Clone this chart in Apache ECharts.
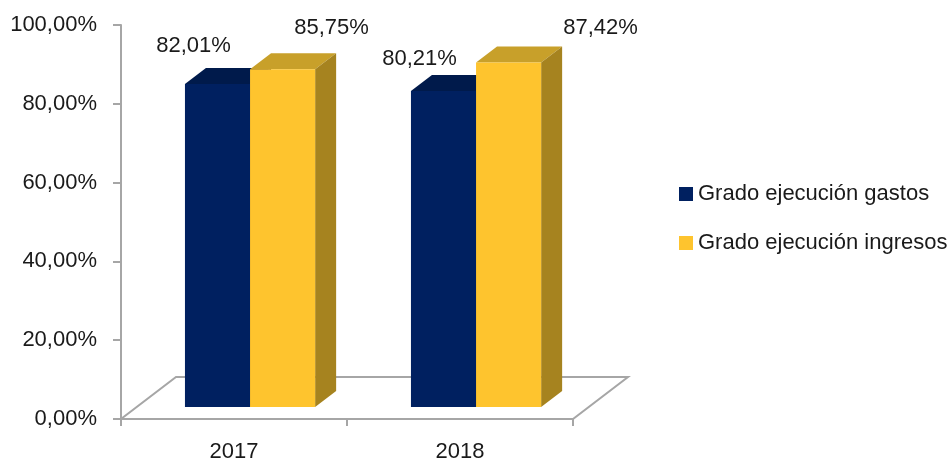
<!DOCTYPE html>
<html>
<head>
<meta charset="utf-8">
<script src="https://cdn.jsdelivr.net/npm/echarts@6/dist/echarts.min.js"></script>
<style>
  html, body { margin: 0; padding: 0; background: #fff; }
  #chart { width: 951px; height: 463px; }
</style>
</head>
<body>
<div id="chart"></div>
<script>
const years = ["2017", "2018"]
const gastos = [82.01, 80.21]
const ingresos = [85.75, 87.42]
const seriesNames = ["Grado ejecución gastos", "Grado ejecución ingresos"]

const font = "'Liberation Sans', Arial, sans-serif"
const fontSize = 22

// colores de cada serie: frontal, superior, lateral
const faces = [
    { front: "#002060", top: "#001a4b", side: "#00163d" },
    { front: "#fec42e", top: "#c8a02a", side: "#a6831f" },
]

// desplazamiento de las etiquetas respecto al centro superior de la cara frontal
const labelNudge = [
    [[-24, -38], [-24, -32]],
    [[49, -41], [92, -35]],
]

const fmt = (v) => v.toFixed(2).replace(".", ",") + "%"

const chart = echarts.init(document.getElementById("chart"))

// profundidad de las barras y del suelo
const depth = { dx: 21, dy: -16 }
const floorDepth = { dx: 55, dy: -42 }

const barRender = (s) => (params, api) => {
    const i = api.value(0)
    const base = api.coord([i, 0])
    const top = api.coord([i, api.value(1)])
    const catW = api.size([1, 0])[0]
    const barW = catW * 0.288
    const fx = catW * 0.071
    const fy = -12
    const left = base[0] + fx - barW + s * barW
    const right = left + barW
    const ty = top[1] + fy
    const by = base[1] + fy
    const c = faces[s]
    const nudge = labelNudge[s][i]
    return {
        type: "group",
        children: [
            {
                type: "polygon",
                shape: { points: [[left, ty], [right, ty], [right + depth.dx, ty + depth.dy], [left + depth.dx, ty + depth.dy]] },
                style: { fill: c.top },
            },
            {
                type: "polygon",
                shape: { points: [[right, ty], [right + depth.dx, ty + depth.dy], [right + depth.dx, by + depth.dy], [right, by]] },
                style: { fill: c.side },
            },
            {
                type: "rect",
                shape: { x: left, y: ty, width: barW, height: by - ty },
                style: { fill: c.front },
            },
            {
                type: "text",
                x: left + barW / 2 + nudge[0],
                y: ty + nudge[1],
                style: {
                    text: fmt(api.value(1)),
                    fontSize: fontSize,
                    fontFamily: font,
                    fill: "#1a1a1a",
                    align: "center",
                    verticalAlign: "middle",
                },
            },
        ],
    }
}

const floorRender = (params, api) => {
    const cs = params.coordSys
    const x0 = cs.x
    const x1 = cs.x + cs.width
    const y0 = cs.y + cs.height
    return {
        type: "polygon",
        shape: {
            points: [
                [x0, y0],
                [x1, y0],
                [x1 + floorDepth.dx, y0 + floorDepth.dy],
                [x0 + floorDepth.dx, y0 + floorDepth.dy],
            ],
        },
        style: { fill: "none", stroke: "#a6a6a6", lineWidth: 2 },
    }
}

chart.setOption({
    animation: false,
    grid: { left: 121, right: 378, top: 25, bottom: 44, outerBoundsMode: "none" },
    legend: {
        data: seriesNames,
        orient: "vertical",
        left: 674,
        top: 178,
        itemWidth: 14,
        itemHeight: 14,
        itemGap: 27,
        icon: "rect",
        textStyle: { fontSize: fontSize, fontFamily: font, color: "#1a1a1a" },
    },
    xAxis: {
        type: "category",
        data: years,
        axisLine: { show: false },
        axisTick: { show: true, length: 7, lineStyle: { color: "#a6a6a6", width: 2 } },
        axisLabel: { fontSize: fontSize, fontFamily: font, color: "#1a1a1a", margin: 22 },
    },
    yAxis: {
        type: "value",
        min: 0,
        max: 100,
        interval: 20,
        axisLine: { show: true, lineStyle: { color: "#a6a6a6", width: 2 } },
        axisTick: { show: true, length: 8, lineStyle: { color: "#a6a6a6", width: 2 } },
        splitLine: { show: false },
        axisLabel: { fontSize: fontSize, fontFamily: font, color: "#1a1a1a", margin: 24, formatter: fmt },
    },
    series: [
        {
            type: "custom",
            name: "suelo",
            silent: true,
            z: 1,
            renderItem: floorRender,
            data: [[0, 0]],
        },
        {
            type: "custom",
            name: seriesNames[0],
            z: 2,
            itemStyle: { color: faces[0].front },
            renderItem: barRender(0),
            data: gastos.map((v, i) => [i, v]),
        },
        {
            type: "custom",
            name: seriesNames[1],
            z: 3,
            itemStyle: { color: faces[1].front },
            renderItem: barRender(1),
            data: ingresos.map((v, i) => [i, v]),
        },
    ],
})
</script>
</body>
</html>
